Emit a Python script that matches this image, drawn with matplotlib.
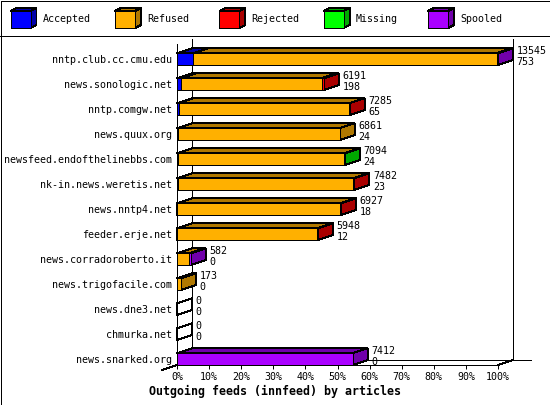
import matplotlib
matplotlib.use("Agg")
import matplotlib.pyplot as plt
from matplotlib.patches import Polygon, Rectangle

# --- data ---
feeds = ["nntp.club.cc.cmu.edu", "news.sonologic.net", "nntp.comgw.net",
         "news.quux.org", "newsfeed.endofthelinebbs.com", "nk-in.news.weretis.net",
         "news.nntp4.net", "feeder.erje.net", "news.corradoroberto.it",
         "news.trigofacile.com", "news.dne3.net", "chmurka.net", "news.snarked.org"]
accepted = [690, 180, 65, 24, 24, 23, 18, 12, 0, 0, 0, 0, 0]
refused = [12792, 5925, 7190, 6837, 7040, 7429, 6879, 5906, 520, 173, 0, 0, 0]
rejected = [0, 86, 30, 0, 0, 30, 30, 30, 0, 0, 0, 0, 0]
missing = [0, 0, 0, 0, 30, 0, 0, 0, 0, 0, 0, 0, 0]
spooled = [63, 0, 0, 0, 0, 0, 0, 0, 62, 0, 0, 0, 7412]
label_total = [13545, 6191, 7285, 6861, 7094, 7482, 6927, 5948, 582, 173, 0, 0, 7412]
label_second = [753, 198, 65, 24, 24, 23, 18, 12, 0, 0, 0, 0, 0]
ticks = list(range(0, 101, 10))

series = ["Accepted", "Refused", "Rejected", "Missing", "Spooled"]
front_col = ["#0000ff", "#ffb000", "#ff0000", "#00ff00", "#aa00ff"]
dark_col = ["#0000a8", "#b07800", "#aa0000", "#00a800", "#7000aa"]

MONO = "DejaVu Sans Mono"
FS = 7.2
LW = 0.72          # one pixel
DX, DY = 4.673, 0.2  # 3d depth, in data units (15px, 5px)
BAR_H = 0.47
TOP = 12.84

fig = plt.figure(figsize=(5.5, 4.05), dpi=100)
fig.patch.set_facecolor("white")

# overlay in pixel units for frame, legend and title
bg = fig.add_axes([0, 0, 1, 1])
bg.set_xlim(0, 550)
bg.set_ylim(405, 0)
bg.axis("off")
bg.add_patch(Rectangle((0.5, 0.5), 549, 404, fill=False, ec="black", lw=LW, antialiased=False))
bg.plot([0, 550], [35.5, 35.5], color="black", lw=LW, antialiased=False)
for k, name in enumerate(series):
    L = 10.5 + k * 104.4
    bg.add_patch(Polygon([(L, 11), (L + 6, 8), (L + 26, 8), (L + 20, 11)],
                         fc=dark_col[k], ec="black", lw=LW, antialiased=False))
    bg.add_patch(Polygon([(L + 20, 11), (L + 26, 8), (L + 26, 25), (L + 20, 28)],
                         fc=dark_col[k], ec="black", lw=LW, antialiased=False))
    bg.add_patch(Rectangle((L, 11), 20, 17, fc=front_col[k], ec="black", lw=LW,
                           antialiased=False))
    bg.text(L + 32, 19.5, name, family=MONO, fontsize=FS, va="center", ha="left")
bg.text(275, 391.5, "Outgoing feeds (innfeed) by articles", family=MONO,
        fontsize=8.4, fontweight="bold", ha="center", va="center")

# main chart
ax = fig.add_axes([177 / 550, 40 / 405, 321 / 550, 321 / 405])
ax.set_facecolor("none")
ax.set_xlim(0, 100)
ax.set_ylim(0, TOP)
n = len(feeds)
ypos = [n - 1 - i for i in range(n)]

# back walls and floor
line_kw = dict(color="black", lw=LW, clip_on=False, antialiased=False, zorder=1)
ax.plot([DX, DX], [DY, TOP + DY], **line_kw)
ax.plot([100 + DX, 100 + DX], [DY, TOP + DY], **line_kw)
ax.plot([DX, 110.3], [DY, DY], **line_kw)
ax.plot([100, 100 + DX], [0, DY], **line_kw)
ax.plot([-DX, 0], [-DY, 0], **line_kw)

values = [accepted, refused, rejected, missing, spooled]
totals = [sum(v[i] for v in values) for i in range(n)]
scale = 100.0 / max(totals)

for i in range(n):
    y0 = ypos[i]
    y1 = y0 + BAR_H
    x = 0.0
    drawn = False
    for k in range(len(series)):
        v = values[k][i]
        if v <= 0:
            continue
        x0, x1 = x, x + v * scale
        pk = dict(ec="black", lw=LW, antialiased=False, clip_on=False, zorder=3)
        ax.add_patch(Polygon([(x0, y1), (x0 + DX, y1 + DY), (x1 + DX, y1 + DY), (x1, y1)],
                             fc=dark_col[k], **pk))
        ax.add_patch(Polygon([(x1, y0), (x1 + DX, y0 + DY), (x1 + DX, y1 + DY), (x1, y1)],
                             fc=dark_col[k], **pk))
        ax.add_patch(Rectangle((x0, y0), x1 - x0, BAR_H, fc=front_col[k], **pk))
        x = x1
        drawn = True
    if not drawn:
        ax.add_patch(Polygon([(0, y0), (DX, y0 + DY), (DX, y1 + DY), (0, y1)],
                             fill=False, ec="black", lw=LW, antialiased=False,
                             clip_on=False, zorder=3))
    ax.annotate(str(label_total[i]), (x + DX, y1), xytext=(2.6, 1.6),
                textcoords="offset points", family=MONO, fontsize=FS,
                va="center", ha="left", annotation_clip=False)
    ax.annotate(str(label_second[i]), (x + DX, y1), xytext=(2.6, -6.3),
                textcoords="offset points", family=MONO, fontsize=FS,
                va="center", ha="left", annotation_clip=False)

ax.spines["top"].set_visible(False)
ax.spines["right"].set_visible(False)
for s in ("left", "bottom"):
    ax.spines[s].set_linewidth(LW)
    ax.spines[s].set_antialiased(False)
ax.set_xticks(ticks)
ax.set_xticklabels([f"{t}%" for t in ticks], family=MONO, fontsize=FS)
ax.set_yticks([y + BAR_H / 2 for y in ypos])
ax.set_yticklabels(feeds, family=MONO, fontsize=FS)
ax.tick_params(axis="x", length=2.9, width=LW, pad=2)
ax.tick_params(axis="y", length=0, pad=3.6)

fig.savefig("out.png", dpi=100)
